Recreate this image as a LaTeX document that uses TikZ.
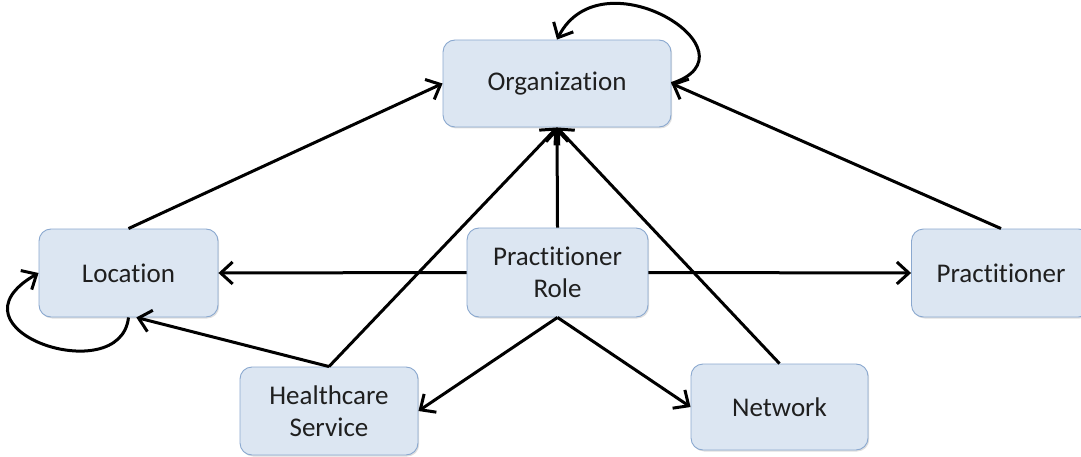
\documentclass[tikz,border=0pt]{standalone}
\usepackage{fontspec}
\setmainfont[Ligatures=NoCommon]{Carlito}
\usepackage{tikz}
\usetikzlibrary{arrows.meta,shadows}
\definecolor{boxfill}{HTML}{DCE6F2}
\definecolor{boxline}{HTML}{8AA8CF}

\begin{document}
\begin{tikzpicture}[x=1pt,y=-1pt,
   box/.style={draw=boxline, line width=0.9pt, fill=boxfill, rounded corners=12pt,
      align=center, inner sep=0pt, text=black!88,
      font=\fontsize{27}{32}\selectfont,
      drop shadow={shadow xshift=1.2pt,shadow yshift=-1.5pt,opacity=0.25}},
   link/.style={->, line width=3pt},
   >={Straight Barb[length=12pt,width=22pt]}]
   \useasboundingbox (0,0) rectangle (1081,457);
   \node[box, minimum width=228pt, minimum height=87pt] (org) at (557,83.5) {Organization};
   \node[box, minimum width=179pt, minimum height=88pt] (loc) at (128.5,273) {Location};
   \node[box, minimum width=181pt, minimum height=89pt] (role) at (557.5,272.5) {Practitioner\\Role};
   \node[box, minimum width=179pt, minimum height=88pt] (prac) at (1001,273) {Practitioner};
   \node[box, minimum width=178pt, minimum height=88pt] (hs) at (329,411) {Healthcare\\Service};
   \node[box, minimum width=177pt, minimum height=86pt] (net) at (779.5,407) {Network};
   \draw[link] (loc.north) -- (org.west);
   \draw[link] (prac.north) -- (org.east);
   \draw[link] (role.north) -- (org.south);
   \draw[link] (hs.north) -- (org.south);
   \draw[link] (net.north) -- (org.south);
   \draw[link] (role.west) -- (loc.east);
   \draw[link] (role.east) -- (prac.west);
   \draw[link] (role.south) -- (hs.east);
   \draw[link] (role.south) -- (net.west);
   \draw[link] (hs.north) -- (loc.-80);
   \draw[link] (org.east) .. controls +(92,-30) and +(45,-88) .. (org.north);
   \draw[link] (loc.south) .. controls +(-8,73) and +(-99,57) .. (loc.west);
\end{tikzpicture}
\end{document}
